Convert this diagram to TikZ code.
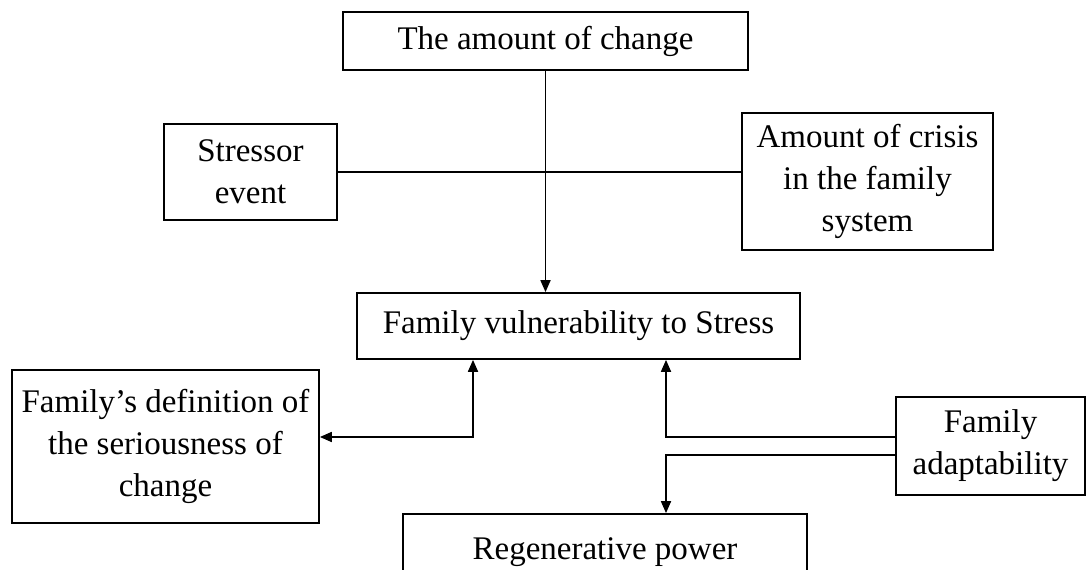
\documentclass[tikz,border=0pt]{standalone}
\usepackage{fontspec}
\setmainfont{Liberation Serif}
\usetikzlibrary{arrows.meta}
\begin{document}
\begin{tikzpicture}[x=.75pt,y=-.75pt,
  box/.style={draw,line width=1.3pt,inner sep=0pt,align=center,font=\fontsize{24.75}{31.5}\selectfont},
  link/.style={line width=1.3pt},
  tip/.style={line width=1.3pt,-{Triangle[length=9pt,width=7.5pt]}},
  tips/.style={line width=1.3pt,{Triangle[length=9pt,width=7.5pt]}-{Triangle[length=9pt,width=7.5pt]}}]
\useasboundingbox (0,0) rectangle (1086,570);
\node[box,minimum width=303.75pt,minimum height=43.5pt] (change) at (545.5,41) {The amount of change};
\node[box,minimum width=129.75pt,minimum height=72pt] (stressor) at (250.5,172) {Stressor\\event};
\node[box,minimum width=188.25pt,minimum height=102.75pt] (crisis) at (867.5,181.5) {Amount of crisis\\in the family\\system};
\node[box,minimum width=332.25pt,minimum height=49.5pt] (vuln) at (578.5,326) {Family vulnerability to Stress};
\node[box,minimum width=230.25pt,minimum height=114.75pt] (defn) at (165.5,446.5) {Family’s definition of\\the seriousness of\\change};
\node[box,minimum width=141.75pt,minimum height=73.5pt] (adapt) at (990.5,446) {Family\\adaptability};
\node[box,minimum width=303pt,minimum height=57pt] (regen) at (605,552) {Regenerative power};
\coordinate (lj) at (473,437);
\coordinate (rj1) at (666,437);
\coordinate (rj2) at (666,455);
\draw[tip] (change.south) -- (change.south |- vuln.north);
\draw[link] (stressor.east) -- (stressor.east -| crisis.west);
\draw[tips] (defn.east |- lj) -- (lj) -- (lj |- vuln.south);
\draw[tip] (adapt.west |- rj1) -- (rj1) -- (rj1 |- vuln.south);
\draw[tip] (adapt.west |- rj2) -- (rj2) -- (rj2 |- regen.north);
\end{tikzpicture}
\end{document}
